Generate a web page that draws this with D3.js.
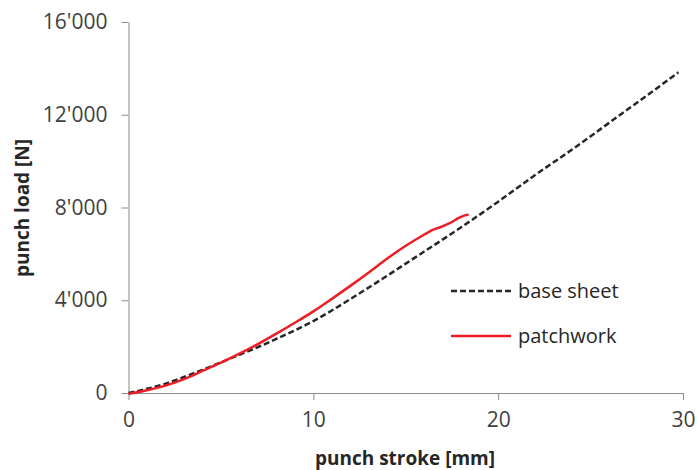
<!DOCTYPE html>
<html>
<head>
<meta charset="utf-8">
<script src="https://cdn.jsdelivr.net/npm/d3@7"></script>
<style>
  body { margin: 0; background: #fff; }
  text { font-family: "Open Sans", sans-serif; }
  .axis path, .axis line { stroke: #8c8c8c; stroke-width: 1; }
  .axis text { fill: #3f3f3f; font-size: 21px; }
  .title { fill: #262626; font-size: 19px; font-weight: bold; }
  .legend-label { fill: #262626; font-size: 20px; }
</style>
</head>
<body>
<svg id="chart" width="697" height="470"></svg>
<script>
// punch stroke [mm] -> punch load [N]
const baseStroke = [0, 1, 2, 3, 4, 5, 6, 7, 8, 9, 10, 11, 12, 13, 14, 15, 16, 18, 20, 22, 24, 26, 28, 29.75]
const baseLoad   = [0, 180, 400, 690, 1000, 1320, 1650, 1980, 2330, 2700, 3100, 3560, 4050, 4550, 5060, 5580, 6100, 7150, 8250, 9400, 10500, 11650, 12800, 13830]

const patchStroke = [0, 1, 2, 3, 4, 5, 6, 7, 8, 9, 10, 11, 12, 13, 14, 15, 15.8, 16.5, 16.9, 17.4, 17.9, 18.2, 18.4]
const patchLoad   = [-40, 120, 320, 600, 950, 1310, 1700, 2110, 2560, 3030, 3520, 4060, 4620, 5200, 5800, 6350, 6740, 7050, 7160, 7335, 7560, 7660, 7690]

const xTicks = [0, 10, 20, 30]
const yTicks = [0, 4000, 8000, 12000, 16000]

const seriesNames = ["base sheet", "patchwork"]

const svg = d3.select("#chart")

const x = d3.scaleLinear().domain([0, 30]).range([128.5, 683])
const y = d3.scaleLinear().domain([0, 16000]).range([393, 22])

// swiss style thousands separator
const fmt = d3.formatLocale({decimal: ".", thousands: "'", grouping: [3], currency: ["", ""]}).format(",")

svg.append("g")
   .attr("class", "axis")
   .attr("transform", "translate(0,393)")
   .call(d3.axisBottom(x).tickValues(xTicks).tickSize(7).tickSizeOuter(0).tickPadding(9))
   .call(g => g.selectAll("text").attr("dy", "0.85em"))

svg.append("g")
   .attr("class", "axis")
   .attr("transform", "translate(128.5,0)")
   .call(d3.axisLeft(y).tickValues(yTicks).tickFormat(fmt).tickSize(7).tickSizeOuter(0).tickPadding(14))

// axis titles
svg.append("text")
   .attr("class", "title")
   .attr("x", 405)
   .attr("y", 465)
   .attr("text-anchor", "middle")
   .text("punch stroke [mm]")

svg.append("text")
   .attr("class", "title")
   .attr("transform", "translate(29,208) rotate(-90)")
   .attr("text-anchor", "middle")
   .text("punch load [N]")

const line = d3.line()
    .x(d => x(d[0]))
    .y(d => y(d[1]))
    .curve(d3.curveMonotoneX)

svg.append("path")
   .datum(d3.zip(baseStroke, baseLoad))
   .attr("d", line)
   .attr("fill", "none")
   .attr("stroke", "#262626")
   .attr("stroke-width", 2.5)
   .attr("stroke-dasharray", "6,3")

svg.append("path")
   .datum(d3.zip(patchStroke, patchLoad))
   .attr("d", line)
   .attr("fill", "none")
   .attr("stroke", "#ee1c25")
   .attr("stroke-width", 2.5)

// legend
const legend = svg.append("g")
    .selectAll("g")
    .data(seriesNames)
    .enter()
    .append("g")
    .attr("transform", (d, i) => "translate(451," + (291 + i * 45) + ")")

legend.append("line")
      .attr("x1", 0)
      .attr("x2", 60)
      .attr("stroke", (d, i) => i === 0 ? "#262626" : "#ee1c25")
      .attr("stroke-width", 2.5)
      .attr("stroke-dasharray", (d, i) => i === 0 ? "6,3" : null)

legend.append("text")
      .attr("class", "legend-label")
      .attr("x", 67)
      .attr("dy", "0.35em")
      .text(d => d)
</script>
</body>
</html>
